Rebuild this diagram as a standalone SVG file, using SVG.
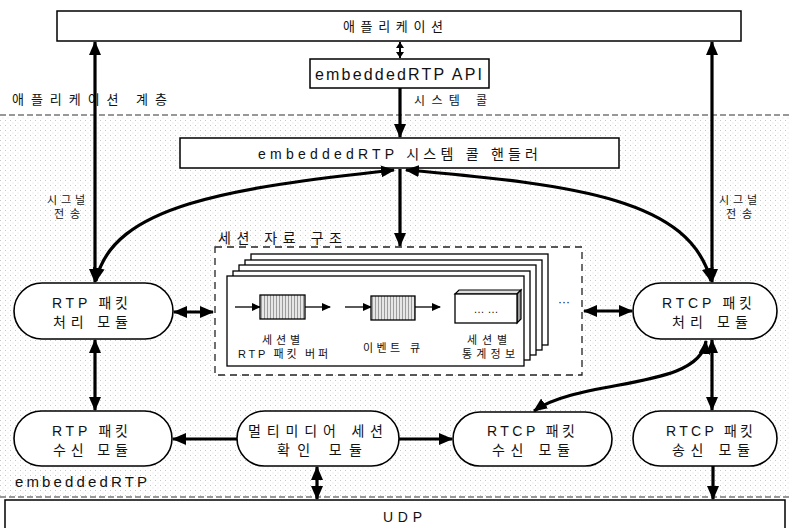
<svg xmlns="http://www.w3.org/2000/svg" width="790" height="528" viewBox="0 0 790 528">
<style>
.box{fill:#fff;stroke:#000;stroke-width:1.5}
.mod{fill:#fff;stroke:#000;stroke-width:1.6}
.page{fill:#fff;stroke:#000;stroke-width:1.3}
.t{font-family:"Liberation Sans","Noto Sans CJK KR",sans-serif;fill:#111}
.m{font-size:14px;text-anchor:start}
.s{font-size:11px}
.c{stroke:#000;stroke-width:3.2;fill:none}
.thin{stroke:#000;stroke-width:1.3;fill:none}
.dash{stroke:#333;stroke-width:1.2;stroke-dasharray:6 3;fill:none}
</style>
<defs>
<marker id="ah" markerUnits="userSpaceOnUse" markerWidth="14" markerHeight="12" refX="13" refY="6" orient="auto-start-reverse">
<path d="M0,0 L14,6 L0,12 z" fill="#000"/>
</marker>
<marker id="ahs" markerUnits="userSpaceOnUse" markerWidth="9" markerHeight="8" refX="8" refY="4" orient="auto-start-reverse">
<path d="M0,0 L9,4 L0,8 z" fill="#000"/>
</marker>
<marker id="aht" markerUnits="userSpaceOnUse" markerWidth="6" markerHeight="8" refX="6" refY="4" orient="auto-start-reverse">
<path d="M0,0 L6,4 L0,8 z" fill="#000"/>
</marker>
<pattern id="dots" width="5" height="5" patternUnits="userSpaceOnUse">
<rect x="0" y="0" width="1" height="1" fill="#9a9a9a"/>
<rect x="2.5" y="2.5" width="1" height="1" fill="#c4c4c4"/>
</pattern>
<pattern id="stripes" width="3" height="4" patternUnits="userSpaceOnUse">
<rect width="3" height="4" fill="#e6e6e6"/>
<rect x="0" width="1" height="4" fill="#9c9c9c"/>
</pattern>
</defs>

<rect width="790" height="528" fill="#fff"/>
<rect x="0" y="116" width="790" height="380" fill="url(#dots)" opacity="0.55"/>

<line class="dash" x1="0" y1="115" x2="790" y2="115"/>
<line class="dash" x1="0" y1="497" x2="790" y2="497"/>

<text class="t" x="12" y="104" font-size="13" textLength="155" lengthAdjust="spacing">애플리케이션 계층</text>
<text class="t" x="414" y="105" font-size="12" textLength="73" lengthAdjust="spacing">시스템 콜</text>
<text class="t" x="15" y="487" font-size="15" textLength="132" lengthAdjust="spacing">embeddedRTP</text>
<text class="t s" x="47" y="204" textLength="38" lengthAdjust="spacing">시그널</text>
<text class="t s" x="54" y="218" textLength="26" lengthAdjust="spacing">전송</text>
<text class="t s" x="719" y="204" textLength="38" lengthAdjust="spacing">시그널</text>
<text class="t s" x="726" y="218" textLength="26" lengthAdjust="spacing">전송</text>

<g id="app">
<rect class="box" x="57" y="11" width="684" height="30"/>
<text class="t" x="343" y="31" font-size="13" textLength="100" lengthAdjust="spacing">애플리케이션</text>
</g>

<g id="api">
<rect class="box" x="310" y="59" width="179" height="29"/>
<text class="t" x="315" y="80" font-size="16" textLength="167" lengthAdjust="spacing">embeddedRTP API</text>
</g>

<g id="handler">
<rect class="box" x="180" y="138" width="439" height="30"/>
<text class="t" x="258" y="159" font-size="14" textLength="280" lengthAdjust="spacing">embeddedRTP 시스템 콜 핸들러</text>
</g>

<g id="session">
<text class="t" x="218" y="243" font-size="14" textLength="124" lengthAdjust="spacing">세션 자료 구조</text>
<rect x="215" y="247" width="367" height="128" fill="#fff" stroke="#222" stroke-width="1.3" stroke-dasharray="7 5"/>
<rect class="page" x="251" y="254" width="297" height="91"/>
<rect class="page" x="245" y="260" width="297" height="90"/>
<rect class="page" x="239" y="265" width="297" height="90"/>
<rect class="page" x="233" y="271" width="297" height="89"/>
<rect class="page" x="227" y="276" width="297" height="90"/>
<line class="thin" x1="235" y1="307" x2="260" y2="307" marker-end="url(#ahs)"/>
<rect x="260" y="295" width="45" height="24" fill="url(#stripes)" stroke="#000" stroke-width="1.3"/>
<line class="thin" x1="305" y1="307" x2="330" y2="307" marker-end="url(#ahs)"/>
<line class="thin" x1="345" y1="307" x2="371" y2="307" marker-end="url(#ahs)"/>
<rect x="371" y="296" width="44" height="24" fill="url(#stripes)" stroke="#000" stroke-width="1.3"/>
<line class="thin" x1="415" y1="307" x2="440" y2="307" marker-end="url(#ahs)"/>
<polygon points="455,294 459,290 521,290 517,294" fill="#ddd" stroke="#000" stroke-width="1.2"/>
<polygon points="517,294 521,290 521,319 517,323" fill="#999" stroke="#000" stroke-width="1.2"/>
<rect x="455" y="294" width="62" height="29" fill="#fff" stroke="#000" stroke-width="1.3"/>
<text class="t" x="486" y="313" font-size="11" text-anchor="middle">… …</text>
<text class="t s" x="262" y="344" textLength="38" lengthAdjust="spacing">세션별</text>
<text class="t s" x="238" y="358" textLength="90" lengthAdjust="spacing">RTP 패킷 버퍼</text>
<text class="t s" x="363" y="352" textLength="57" lengthAdjust="spacing">이벤트 큐</text>
<text class="t s" x="467" y="344" textLength="40" lengthAdjust="spacing">세션별</text>
<text class="t s" x="462" y="358" textLength="53" lengthAdjust="spacing">통계정보</text>
<text class="t" x="564" y="306" font-size="12" text-anchor="middle">···</text>
</g>

<g id="rtp-proc">
<rect class="mod" x="14" y="283" width="159" height="56" rx="28"/>
<text class="t" x="52" y="308" font-size="14" textLength="76" lengthAdjust="spacing">RTP 패킷</text>
<text class="t" x="53" y="327" font-size="14" textLength="75" lengthAdjust="spacing">처리 모듈</text>
</g>

<g id="rtcp-proc">
<rect class="mod" x="633" y="283" width="144" height="56" rx="28"/>
<text class="t" x="662" y="308" font-size="14" textLength="90" lengthAdjust="spacing">RTCP 패킷</text>
<text class="t" x="672" y="327" font-size="14" textLength="76" lengthAdjust="spacing">처리 모듈</text>
</g>

<g id="rtp-recv">
<rect class="mod" x="14" y="411" width="158" height="55" rx="27.5"/>
<text class="t" x="52" y="436" font-size="14" textLength="76" lengthAdjust="spacing">RTP 패킷</text>
<text class="t" x="53" y="455" font-size="14" textLength="75" lengthAdjust="spacing">수신 모듈</text>
</g>

<g id="mm-check">
<rect class="mod" x="237" y="411" width="162" height="55" rx="27.5"/>
<text class="t" x="248" y="436" font-size="14" textLength="135" lengthAdjust="spacing">멀티미디어 세션</text>
<text class="t" x="277" y="455" font-size="14" textLength="85" lengthAdjust="spacing">확인 모듈</text>
</g>

<g id="rtcp-recv">
<rect class="mod" x="453" y="412" width="159" height="54" rx="27"/>
<text class="t" x="487" y="436" font-size="14" textLength="88" lengthAdjust="spacing">RTCP 패킷</text>
<text class="t" x="492" y="455" font-size="14" textLength="78" lengthAdjust="spacing">수신 모듈</text>
</g>

<g id="rtcp-send">
<rect class="mod" x="633" y="411" width="144" height="55" rx="27.5"/>
<text class="t" x="666" y="436" font-size="14" textLength="87" lengthAdjust="spacing">RTCP 패킷</text>
<text class="t" x="672" y="455" font-size="14" textLength="78" lengthAdjust="spacing">송신 모듈</text>
</g>

<g id="udp">
<rect class="box" x="5" y="500" width="780" height="40"/>
<text class="t" x="383" y="522" font-size="14" textLength="39" lengthAdjust="spacing">UDP</text>
</g>

<g id="connectors">
<line x1="400" y1="42" x2="400" y2="58" stroke="#000" stroke-width="2" marker-start="url(#aht)" marker-end="url(#aht)"/>
<line class="c" x1="400" y1="88" x2="400" y2="137" marker-end="url(#ah)"/>
<line class="c" x1="95" y1="42" x2="95" y2="282" marker-start="url(#ah)" marker-end="url(#ah)"/>
<line class="c" x1="712" y1="42" x2="712" y2="282" marker-start="url(#ah)" marker-end="url(#ah)"/>
<path class="c" d="M96,281 C112,205 230,188 394,170" marker-start="url(#ah)" marker-end="url(#ah)"/>
<path class="c" d="M406,170 C580,185 690,200 711,281" marker-start="url(#ah)" marker-end="url(#ah)"/>
<line class="c" x1="400" y1="169" x2="400" y2="246" marker-end="url(#ah)"/>
<line class="c" x1="174" y1="312" x2="213" y2="312" marker-start="url(#ah)" marker-end="url(#ah)"/>
<line class="c" x1="584" y1="311" x2="632" y2="311" marker-start="url(#ah)" marker-end="url(#ah)"/>
<line class="c" x1="95" y1="340" x2="95" y2="410" marker-start="url(#ah)" marker-end="url(#ah)"/>
<line class="c" x1="712" y1="340" x2="712" y2="410" marker-start="url(#ah)" marker-end="url(#ah)"/>
<path class="c" d="M706,341 C700,390 580,378 534,411" marker-start="url(#ah)" marker-end="url(#ah)"/>
<line class="c" x1="237" y1="439" x2="173" y2="439" marker-end="url(#ah)"/>
<line class="c" x1="399" y1="439" x2="452" y2="439" marker-end="url(#ah)"/>
<line class="c" x1="317" y1="467" x2="317" y2="499" marker-start="url(#ah)" marker-end="url(#ah)"/>
<line class="c" x1="713" y1="466" x2="713" y2="499" marker-end="url(#ah)"/>
</g>
</svg>
